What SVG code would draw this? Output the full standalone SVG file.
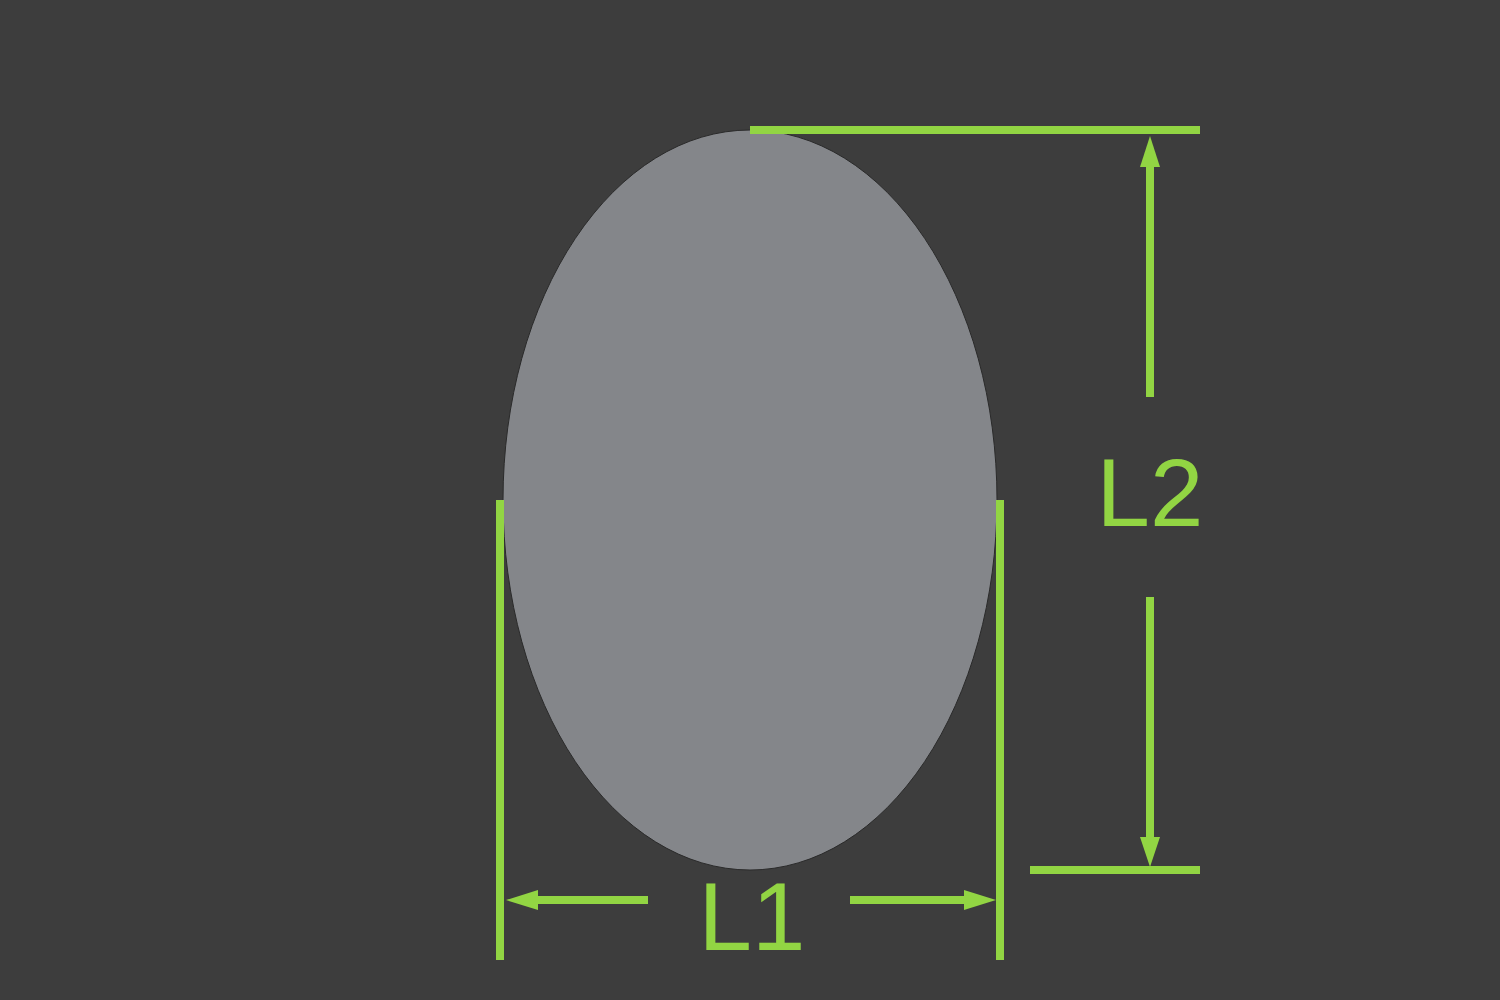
<svg xmlns="http://www.w3.org/2000/svg" width="1500" height="1000" viewBox="0 0 1500 1000">
<style>
.dim{stroke:#92d543;stroke-width:8;fill:none}
.head{fill:#92d543}
.lbl{font-family:"Liberation Sans",Arial,sans-serif;font-size:96px;fill:#92d543;text-anchor:middle}
</style>
<rect width="1500" height="1000" fill="#3d3d3d"/>
<g id="ellipse">
<ellipse cx="750" cy="500" rx="247" ry="370" fill="#84868a" stroke="#2a2a2a" stroke-width="1"/>
</g>
<g id="connectors">
<line class="dim" x1="500" y1="500" x2="500" y2="960"/>
<line class="dim" x1="1000" y1="500" x2="1000" y2="960"/>
<line class="dim" x1="750" y1="130" x2="1200" y2="130"/>
<line class="dim" x1="1030" y1="870" x2="1200" y2="870"/>
<line class="dim" x1="536" y1="900" x2="648" y2="900"/>
<polygon class="head" points="506,900 538,890 538,910"/>
<line class="dim" x1="850" y1="900" x2="966" y2="900"/>
<polygon class="head" points="996,900 964,890 964,910"/>
<line class="dim" x1="1150" y1="165" x2="1150" y2="397"/>
<polygon class="head" points="1150,136 1140,167 1160,167"/>
<line class="dim" x1="1150" y1="597" x2="1150" y2="840"/>
<polygon class="head" points="1150,867 1140,837 1160,837"/>
</g>
<g id="label-l1"><text class="lbl" x="752" y="950">L1</text></g>
<g id="label-l2"><text class="lbl" x="1150" y="526">L2</text></g>
</svg>
